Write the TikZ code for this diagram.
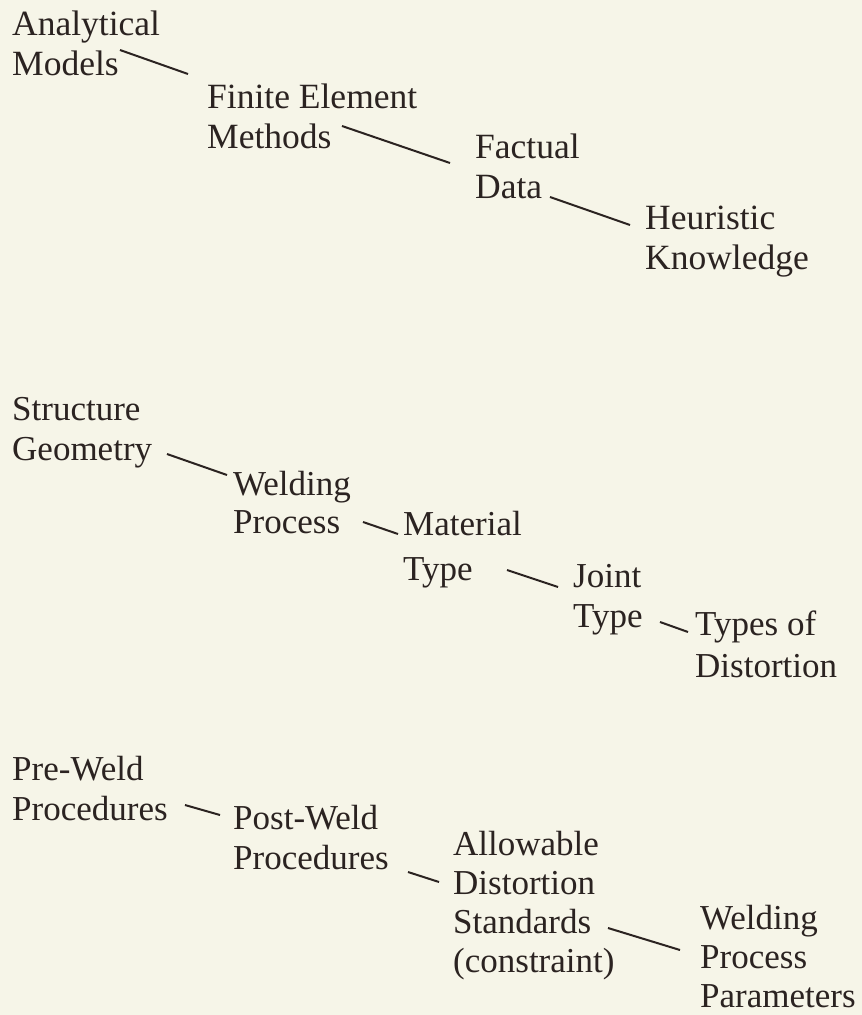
\documentclass[tikz,border=0pt]{standalone}
\usepackage{fontspec}
\setmainfont{Liberation Serif}
\definecolor{paper}{HTML}{F6F5E8}
\definecolor{ink}{HTML}{2B2321}
\begin{document}
\begin{tikzpicture}[x=1pt,y=-1pt,
  lbl/.style={anchor=base west,inner sep=0pt,align=left,text=ink,
    font=\fontsize{35}{40}\selectfont},
  big/.style={font=\fontsize{35.5}{40}\selectfont},
  link/.style={draw=ink,line width=2pt}]
\fill[paper] (0,0) rectangle (862,1015);
\useasboundingbox (0,0) rectangle (862,1015);
% group 1 (anchor = baseline of last line)
\node[lbl,big] (am) at (12,75) {Analytical\\Models};
\node[lbl,big] (fem) at (207,148) {Finite Element\\Methods};
\node[lbl,big] (fd) at (475,198) {Factual\\Data};
\node[lbl,big] (hk) at (645,269) {Heuristic\\Knowledge};
% group 2
\node[lbl] (sg) at (12,460) {Structure\\Geometry};
\node[lbl] (wp) at (233,533) {Welding\\[-2pt]Process};
\node[lbl] (mt) at (403,580) {Material\\[5pt]Type};
\node[lbl] (jt) at (573,627) {Joint\\Type};
\node[lbl] (td) at (695,677) {Types of\\[2pt]Distortion};
% group 3
\node[lbl] (pre) at (12,820) {Pre-Weld\\Procedures};
\node[lbl] (post) at (233,869) {Post-Weld\\Procedures};
\node[lbl,font=\fontsize{35}{39}\selectfont] (ads) at (453,972) {Allowable\\Distortion\\Standards\\(constraint)};
\node[lbl,font=\fontsize{35}{39}\selectfont] (wpp) at (700,1007) {Welding\\Process\\Parameters};
% connectors
\draw[link] ([xshift=108pt,yshift=25pt]am.base west) -- ([xshift=-19pt,yshift=74pt]fem.base west);
\draw[link] ([xshift=135pt,yshift=22pt]fem.base west) -- ([xshift=-25pt,yshift=35pt]fd.base west);
\draw[link] ([xshift=75pt,yshift=1pt]fd.base west) -- ([xshift=-15pt,yshift=44pt]hk.base west);
\draw[link] ([xshift=155pt,yshift=6pt]sg.base west) -- ([xshift=-6pt,yshift=58pt]wp.base west);
\draw[link] ([xshift=130pt,yshift=11pt]wp.base west) -- ([xshift=-5pt,yshift=46pt]mt.base west);
\draw[link] ([xshift=104pt,yshift=10pt]mt.base west) -- ([xshift=-15pt,yshift=40pt]jt.base west);
\draw[link] ([xshift=87pt,yshift=5pt]jt.base west) -- ([xshift=-7pt,yshift=45pt]td.base west);
\draw[link] ([xshift=173pt,yshift=15pt]pre.base west) -- ([xshift=-13pt,yshift=54pt]post.base west);
\draw[link] ([xshift=175pt,yshift=-3pt]post.base west) -- ([xshift=-14pt,yshift=90pt]ads.base west);
\draw[link] ([xshift=155pt,yshift=44pt]ads.base west) -- ([xshift=-20pt,yshift=57pt]wpp.base west);
\end{tikzpicture}
\end{document}
